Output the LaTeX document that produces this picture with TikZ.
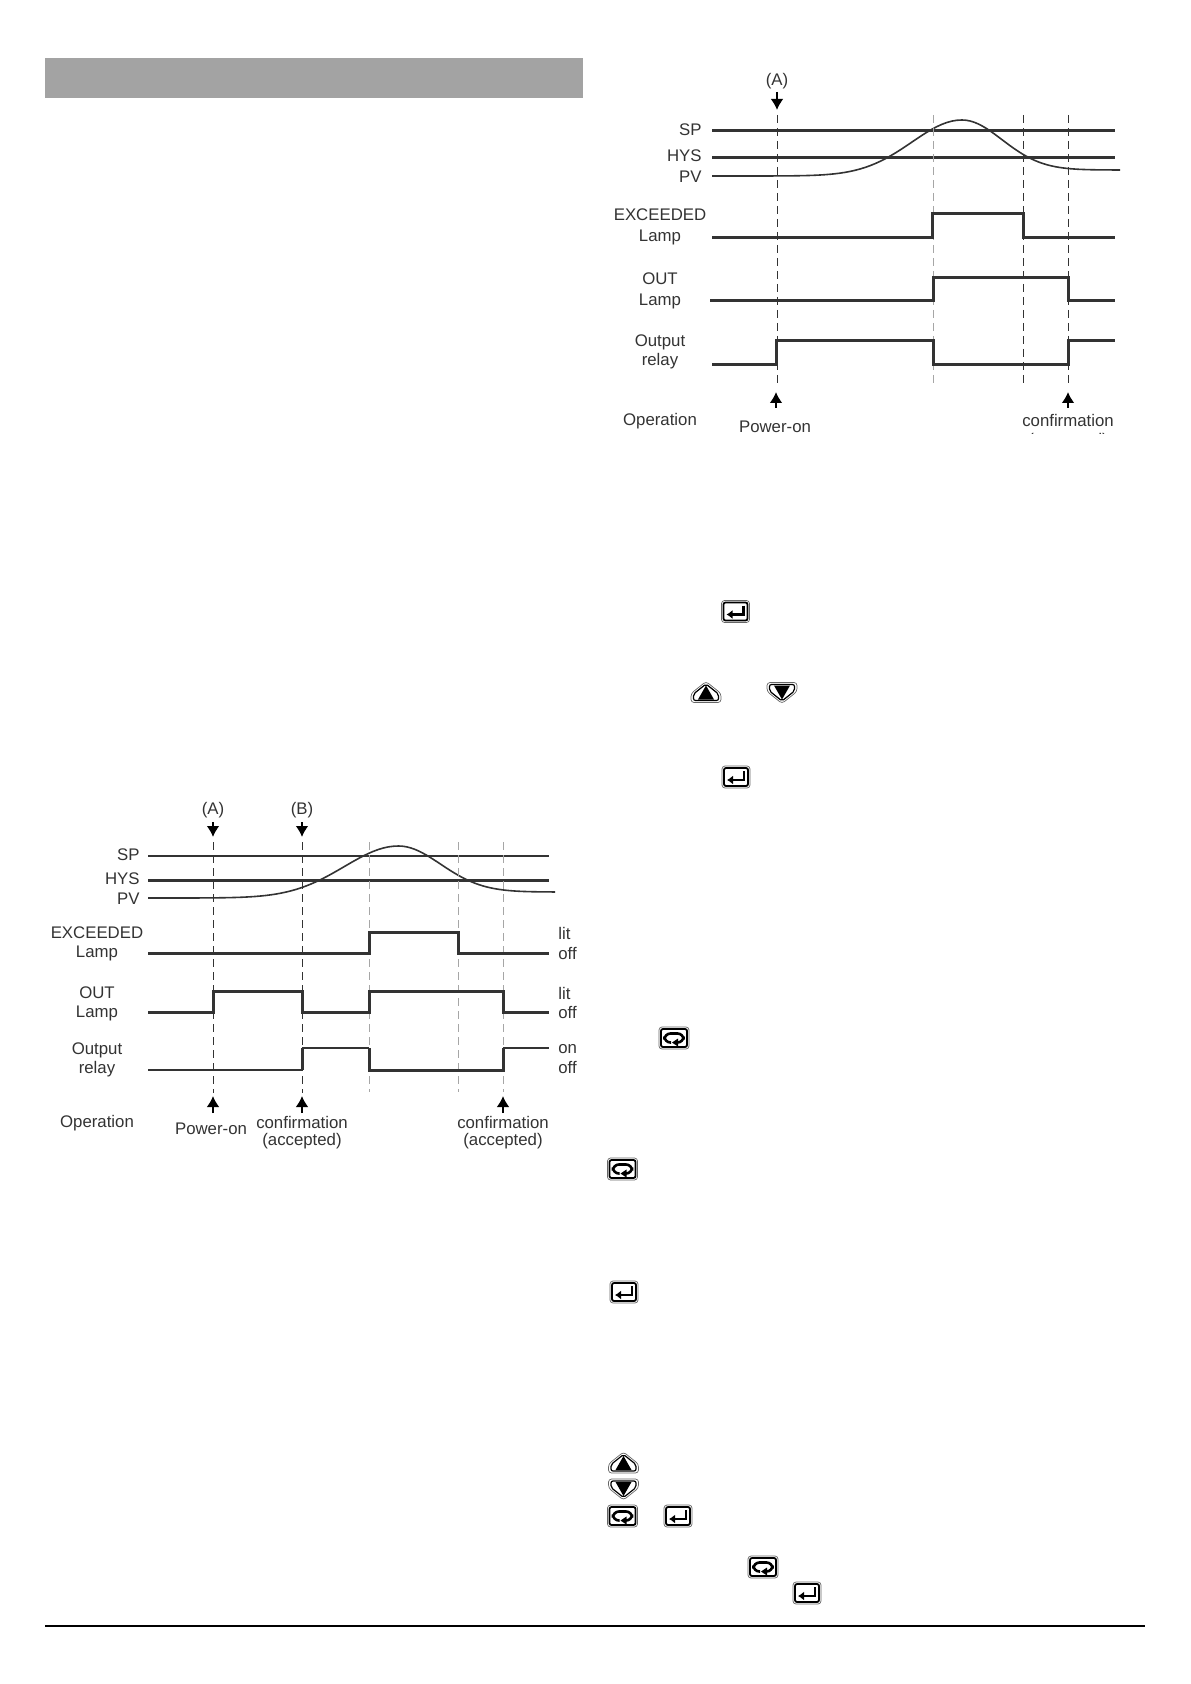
\documentclass[tikz,border=0pt]{standalone}
\usepackage{fontspec}
\setmainfont{Liberation Sans}
\usetikzlibrary{arrows.meta}
\definecolor{band}{HTML}{A3A3A3}
\definecolor{ink}{HTML}{333333}
\tikzset{
  sig/.style={ink, line width=1.5pt},
  thinsig/.style={ink, line width=1.1pt},
  curve/.style={ink, line width=0.8pt, line join=round},
  mark line/.style={ink, line width=0.5pt, dash pattern=on 4pt off 2.5pt},
  pale line/.style={black!35, line width=0.5pt, dash pattern=on 4pt off 2.5pt},
  tick/.style={black, line width=1.4pt, -{Latex[length=5.5pt,width=6.5pt]}},
  lab/.style={inner sep=0pt, text=ink, font=\fontsize{8.4}{9}\selectfont},
  rlab/.style={lab, anchor=east},
  llab/.style={lab, anchor=west},
  keyrim/.style={black!60, line width=0.35pt, rounded corners=1.5pt},
  enterkey/.pic={
    \draw[keyrim] (-14,-11) rectangle (14,11);
    \draw[black, line width=0.9pt, rounded corners=1pt] (-12,-9) rectangle (12,9);
    \draw[black, line width=1.3pt, -{Latex[length=3pt,width=4.5pt]}] (8,-6) -- (8,3) -- (-9,3);
  },
  cyclekey/.pic={
    \draw[keyrim] (-15,-11) rectangle (15,11);
    \draw[black, line width=0.9pt, rounded corners=1pt] (-13,-9) rectangle (13,9);
    \draw[black, line width=1.3pt, rounded corners=3pt] (-3,4.5) -- (-9.5,4.5) -- (-9.5,-4.5) -- (9.5,-4.5) -- (9.5,4.5) -- (3,4.5);
    \fill[black] (4,0.5) -- (4,8.5) -- (-2,4.5) -- cycle;
  },
  upkey/.pic={
    \draw[keyrim] (-15,10) -- (-15,1) -- (0,-11) -- (15,1) -- (15,10) -- cycle;
    \draw[black, line width=0.6pt, rounded corners=1pt] (-12.5,8) -- (-12.5,1.5) -- (0,-8.5) -- (12.5,1.5) -- (12.5,8) -- cycle;
    \fill[black] (-8,7) -- (0,-7) -- (8,7) -- cycle;
  },
  downkey/.pic={
    \draw[keyrim] (-15,-10) -- (-15,-1) -- (0,11) -- (15,-1) -- (15,-10) -- cycle;
    \draw[black, line width=0.6pt, rounded corners=1pt] (-12.5,-8) -- (-12.5,-1.5) -- (0,8.5) -- (12.5,-1.5) -- (12.5,-8) -- cycle;
    \fill[black] (-8,-7) -- (0,7) -- (8,-7) -- cycle;
  },
}
\begin{document}
\begin{tikzpicture}[x=0.5pt, y=-0.5pt]
    \useasboundingbox (0,0) rectangle (1190,1684);
    %Header band and footer rule
    \fill[band] (45,58) rectangle (583,98);
    \draw[black, line width=0.6pt] (45,1626) -- (1145,1626);

    %Left chart
    \node[rlab] (spL) at (140,855) {SP};
    \node[rlab] (hysL) at (140,879) {HYS};
    \node[rlab] (pvL) at (140,899) {PV};
    \draw[thinsig] (148,856) -- (549,856);
    \draw[sig] (148,880) -- (549,880);
    \draw[curve] plot[domain=148:398.5, samples=50] (\x,{898-52*exp(-((\x-398.5)/54)^2/2)})
      -- plot[domain=398.5:555, samples=40] (\x,{892-46*exp(-((\x-398.5)/42)^2/2)});
    \foreach \x in {213,302} \draw[mark line] (\x,842) -- (\x,1093);
    \foreach \x in {369,458,503} \draw[pale line] (\x,842) -- (\x,1092);
    \draw[sig] (148,953) -- (369,953) -- (369,932) -- (458,932) -- (458,953) -- (549,953);
    \draw[sig] (148,1012) -- (213,1012) -- (213,991) -- (302,991) -- (302,1012) -- (369,1012) -- (369,991) -- (503,991) -- (503,1012) -- (549,1012);
    \draw[thinsig] (148,1070) -- (302,1070);
    \draw[sig] (302,1070) -- (302,1048);
    \draw[thinsig] (302,1048) -- (369,1048);
    \draw[sig] (369,1048) -- (369,1070) -- (503,1070) -- (503,1048);
    \draw[thinsig] (503,1048) -- (549,1048);
    %Left chart labels
    \node[lab] (exL) at (97,933) {EXCEEDED};
    \node[lab] (exlampL) at (97,953) {Lamp};
    \node[lab] (outL) at (97,993) {OUT};
    \node[lab] (outlampL) at (97,1013) {Lamp};
    \node[lab] (relayL) at (97,1050) {Output};
    \node[lab] (relay2L) at (97,1069) {relay};
    \node[lab] (opL) at (97,1123) {Operation};
    \node[llab] (lit1) at (558,933) {lit};
    \node[llab] (off1) at (558,953) {off};
    \node[llab] (lit2) at (558,993) {lit};
    \node[llab] (off2) at (558,1012) {off};
    \node[llab] (on3) at (558,1049) {on};
    \node[llab] (off3) at (558,1067) {off};
    \node[lab] (markA) at (213,810) {(A)};
    \node[lab] (markB) at (302,810) {(B)};
    \draw[tick] (213,822) -- (213,837);
    \draw[tick] (302,822) -- (302,837);
    \draw[tick] (213,1113) -- (213,1096);
    \draw[tick] (302,1113) -- (302,1096);
    \draw[tick] (503,1113) -- (503,1096);
    \node[lab] (powerL) at (211,1129) {Power-on};
    \node[lab] (confaL) at (302,1122) {confirmation};
    \node[lab] (accaL) at (302,1141) {(accepted)};
    \node[lab] (confbL) at (503,1122) {confirmation};
    \node[lab] (accbL) at (503,1141) {(accepted)};

    %Right chart
    \node[rlab] (spR) at (702,130) {SP};
    \node[rlab] (hysR) at (702,156) {HYS};
    \node[rlab] (pvR) at (702,177) {PV};
    \draw[sig] (712,131) -- (1115,131);
    \draw[sig] (712,158) -- (1115,158);
    \draw[curve] plot[domain=712:962, samples=50] (\x,{176-56*exp(-((\x-962)/50)^2/2)})
      -- plot[domain=962:1120, samples=40] (\x,{170-50*exp(-((\x-962)/40)^2/2)});
    \foreach \x in {777,1023,1068} \draw[mark line] (\x,115) -- (\x,387);
    \draw[pale line] (933,115) -- (933,387);
    \draw[sig] (712,237.5) -- (932,237.5) -- (932,213.5) -- (1023,213.5) -- (1023,237.5) -- (1115,237.5);
    \draw[sig] (710,300.5) -- (933,300.5) -- (933,277.5) -- (1068,277.5) -- (1068,300.5) -- (1115,300.5);
    \draw[sig] (712,364.5) -- (776,364.5) -- (776,341) -- (933,341) -- (933,364.5) -- (1068,364.5) -- (1068,341) -- (1115,341);
    %Right chart labels
    \node[lab] (exR) at (660,215) {EXCEEDED};
    \node[lab] (exlampR) at (660,237) {Lamp};
    \node[lab] (outR) at (660,279) {OUT};
    \node[lab] (outlampR) at (660,301) {Lamp};
    \node[lab] (relayR) at (660,342) {Output};
    \node[lab] (relay2R) at (660,361) {relay};
    \node[lab] (opR) at (660,421) {Operation};
    \node[lab] (markAR) at (777,81) {(A)};
    \draw[tick] (777,92) -- (777,110);
    \draw[tick] (776,408) -- (776,392);
    \draw[tick] (1068,408) -- (1068,392);
    \node[lab] (powerR) at (775,427) {Power-on};
    \node[lab] (confR) at (1068,420) {confirmation};
    \begin{scope}
      \clip (1000,429) rectangle (1130,434);
      \node[lab] (accR) at (1068,441) {(accepted)};
    \end{scope}

    %Key symbols
    \pic at (735.5,611.5) {enterkey};
    \pic at (706,692.5) {upkey};
    \pic at (782,692.5) {downkey};
    \pic at (736,777) {enterkey};
    \pic at (674,1038) {cyclekey};
    \pic at (622.5,1169) {cyclekey};
    \pic at (624,1292) {enterkey};
    \pic at (623.5,1463) {upkey};
    \pic at (623.5,1489) {downkey};
    \pic at (622.5,1516) {cyclekey};
    \pic at (678,1516) {enterkey};
    \pic at (763,1567) {cyclekey};
    \pic at (807,1593) {enterkey};
\end{tikzpicture}
\end{document}
